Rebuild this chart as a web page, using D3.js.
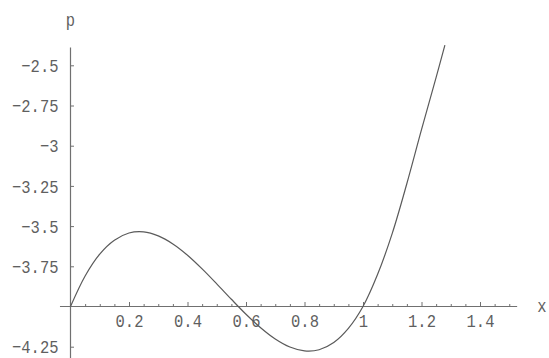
<!DOCTYPE html>
<html><head><meta charset="utf-8">
<script src="https://cdn.jsdelivr.net/npm/d3@7"></script>
<style>
body{margin:0;background:#fff;}
svg text.lbl{transform-box:fill-box;transform-origin:center;transform:scaleY(1.2);}
</style></head><body>
<svg id="c" width="549" height="358"></svg>
<script>
// data (p vs x)
const xs = [0, 0.05, 0.1, 0.15, 0.2, 0.25, 0.3, 0.35, 0.4, 0.45, 0.5, 0.55, 0.6, 0.65, 0.7, 0.75, 0.8, 0.85, 0.9, 0.95, 1.0, 1.05, 1.1, 1.15, 1.2, 1.25, 1.28];
const ps = [-4, -3.81, -3.674, -3.588, -3.543, -3.536, -3.561, -3.611, -3.681, -3.766, -3.859, -3.955, -4.048, -4.132, -4.202, -4.252, -4.276, -4.269, -4.224, -4.136, -4, -3.80, -3.545, -3.235, -2.90, -2.575, -2.374];
const xTicks = [0.2, 0.4, 0.6, 0.8, 1, 1.2, 1.4];
const xMinor = [0.05,0.1,0.15,0.25,0.3,0.35,0.45,0.5,0.55,0.65,0.7,0.75,0.85,0.9,0.95,1.05,1.1,1.15,1.25,1.3,1.35,1.45,1.5];
const yTicks = [-2.5, -2.75, -3, -3.25, -3.5, -3.75, -4.25];
const xLabel = "x", yLabel = "p";

const svg = d3.select("#c");
const x = d3.scaleLinear().domain([0, 1.4]).range([70.5, 480]);
const y = d3.scaleLinear().domain([-4, -2.5]).range([306.5, 65.3]);
const axisCol = "#707070";
const textCol = "#5f5f5f";
const font = "'Liberation Mono','DejaVu Sans Mono',monospace";
const fs = 15.5;
const fmt = v => String(v).replace("-", "\u2212");

// axis lines
svg.append("line").attr("x1", x(-0.036)).attr("x2", x(1.527)).attr("y1", y(-4)).attr("y2", y(-4))
  .attr("stroke", axisCol).attr("stroke-width", 1.2);
svg.append("line").attr("x1", x(0)).attr("x2", x(0)).attr("y1", y(-2.39)).attr("y2", y(-4.33))
  .attr("stroke", axisCol).attr("stroke-width", 1.2);

// x axis ticks (major + minor)
const gx = svg.append("g").attr("transform", `translate(0,${y(-4)})`)
  .call(d3.axisBottom(x).tickValues(xTicks).tickSize(-4.5).tickPadding(15).tickFormat(fmt));
const gxm = svg.append("g").attr("transform", `translate(0,${y(-4)})`)
  .call(d3.axisBottom(x).tickValues(xMinor).tickSize(-2.5).tickFormat(""));
// y axis ticks
const gy = svg.append("g").attr("transform", `translate(${x(0)},0)`)
  .call(d3.axisLeft(y).tickValues(yTicks).tickSize(-3.5).tickPadding(12).tickFormat(fmt));
[gx, gxm, gy].forEach(g => {
  g.attr("font-family", font).attr("font-size", fs);
  g.select(".domain").remove();
  g.selectAll(".tick line").attr("stroke", axisCol).attr("stroke-width", 1);
  g.selectAll("text").attr("class", "lbl").attr("fill", textCol);
});
gx.selectAll("text").attr("dy", "0.3em");
gy.selectAll("text").attr("dy", "0.35em");

// curve
svg.append("path").datum(d3.zip(xs, ps))
  .attr("fill", "none").attr("stroke", "#5a5a5a").attr("stroke-width", 1.2)
  .attr("d", d3.line().x(d => x(d[0])).y(d => y(d[1])).curve(d3.curveCatmullRom));

// axis labels
const lab = svg.append("g").attr("font-family", font).attr("font-size", fs).attr("fill", textCol);
lab.append("text").attr("class", "lbl").attr("x", x(0)).attr("y", 20).attr("dy", "0.35em").attr("text-anchor", "middle").text(yLabel);
lab.append("text").attr("class", "lbl").attr("x", 542).attr("y", y(-4)).attr("dy", "0.3em").attr("text-anchor", "middle").text(xLabel);
</script>
</body></html>
